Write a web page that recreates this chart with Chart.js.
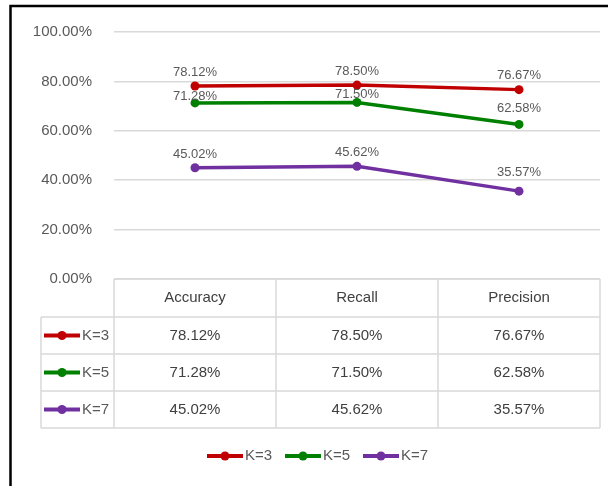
<!DOCTYPE html>
<html>
<head>
<meta charset="utf-8">
<script src="https://cdn.jsdelivr.net/npm/chart.js@4.4.1/dist/chart.umd.min.js"></script>
<style>
  html, body { margin: 0; padding: 0; background: #ffffff; }
  canvas { display: block; }
</style>
</head>
<body>
<canvas id="chart" width="608" height="486"></canvas>
<script>
// --- Data ---
const categories = ['Accuracy', 'Recall', 'Precision'];
const seriesNames = ['K=3', 'K=5', 'K=7'];
const k3Values = [0.7812, 0.7850, 0.7667];
const k5Values = [0.7128, 0.7150, 0.6258];
const k7Values = [0.4502, 0.4562, 0.3557];
const yTicks = [0, 0.2, 0.4, 0.6, 0.8, 1.0];

// --- Style ---
const COLORS = ['#C00000', '#008000', '#7030A0'];
const FONT = "'Liberation Sans', Arial, sans-serif";
const TEXT = '#595959';
const GRID = '#D9D9D9';
// how far above each point its label sits (px)
const LABEL_LIFT = [[14, 14, 14], [7, 8, 16], [13, 14, 19]];

const pct = v => (v * 100).toFixed(2) + '%';

function makeDataset(label, data, color) {
    return {
        label: label,
        data: data,
        borderColor: color,
        backgroundColor: color,
        pointBackgroundColor: color,
        pointBorderColor: color,
        pointBorderWidth: 0,
        borderWidth: 3.5,
        pointRadius: 4.5,
        pointHoverRadius: 4.5,
        tension: 0
    };
}

// black frame on top and left (chart border, right/bottom cut off)
const framePlugin = {
    id: 'frame',
    afterDraw(chart) {
        const ctx = chart.ctx;
        ctx.save();
        ctx.strokeStyle = '#000000';
        ctx.lineWidth = 2.5;
        ctx.beginPath();
        ctx.moveTo(10.5, 486);
        ctx.lineTo(10.5, 6);
        ctx.lineTo(608, 6);
        ctx.stroke();
        ctx.restore();
    }
};

// value labels above each point
const labelPlugin = {
    id: 'pointLabels',
    afterDatasetsDraw(chart) {
        const ctx = chart.ctx;
        ctx.save();
        ctx.font = '13px ' + FONT;
        ctx.fillStyle = TEXT;
        ctx.textAlign = 'center';
        ctx.textBaseline = 'middle';
        chart.data.datasets.forEach((ds, di) => {
            const meta = chart.getDatasetMeta(di);
            meta.data.forEach((pt, i) => {
                ctx.fillText(pct(ds.data[i]), pt.x, pt.y - LABEL_LIFT[di][i]);
            });
        });
        ctx.restore();
    }
};

function drawKey(ctx, x, y, color) {
    ctx.strokeStyle = color;
    ctx.fillStyle = color;
    ctx.lineWidth = 4;
    ctx.beginPath();
    ctx.moveTo(x, y);
    ctx.lineTo(x + 36, y);
    ctx.stroke();
    ctx.beginPath();
    ctx.arc(x + 18, y, 4.5, 0, Math.PI * 2);
    ctx.fill();
}

// data table under the plot, columns follow the x scale
const tablePlugin = {
    id: 'dataTable',
    afterDraw(chart) {
        const ctx = chart.ctx;
        const area = chart.chartArea;
        const xs = chart.scales.x;
        const n = categories.length;
        const colW = (area.right - area.left) / n;
        const headH = 38, rowH = 37;
        const top = area.bottom;
        const bodyTop = top + headH;
        const bottom = bodyTop + rowH * seriesNames.length;
        const leftCol = 41;

        ctx.save();
        ctx.strokeStyle = GRID;
        ctx.lineWidth = 1.5;
        ctx.beginPath();
        // header box
        ctx.moveTo(area.left, top); ctx.lineTo(area.right, top);
        // horizontal row lines
        for (let r = 0; r <= seriesNames.length; r++) {
            const y = bodyTop + r * rowH;
            ctx.moveTo(leftCol, y); ctx.lineTo(area.right, y);
        }
        // vertical lines
        for (let c = 0; c <= n; c++) {
            const x = area.left + c * colW;
            ctx.moveTo(x, top); ctx.lineTo(x, bottom);
        }
        ctx.moveTo(leftCol, bodyTop); ctx.lineTo(leftCol, bottom);
        ctx.stroke();

        ctx.font = '15px ' + FONT;
        ctx.fillStyle = '#404040';
        ctx.textAlign = 'center';
        ctx.textBaseline = 'middle';
        categories.forEach((cat, i) => {
            ctx.fillText(cat, xs.getPixelForValue(i), top + headH / 2);
        });
        chart.data.datasets.forEach((ds, di) => {
            const y = bodyTop + di * rowH + rowH / 2;
            ds.data.forEach((v, i) => {
                ctx.fillText(pct(v), xs.getPixelForValue(i), y);
            });
            drawKey(ctx, 44, y, COLORS[di]);
            ctx.fillStyle = TEXT;
            ctx.textAlign = 'left';
            ctx.fillText(ds.label, 82, y);
            ctx.textAlign = 'center';
            ctx.fillStyle = '#404040';
        });
        ctx.restore();
    }
};

// legend at the bottom
const legendPlugin = {
    id: 'bottomLegend',
    afterDraw(chart) {
        const ctx = chart.ctx;
        ctx.save();
        ctx.font = '15px ' + FONT;
        ctx.textBaseline = 'middle';
        ctx.textAlign = 'left';
        const y = 456;
        let x = 207;
        chart.data.datasets.forEach((ds, di) => {
            drawKey(ctx, x, y, COLORS[di]);
            ctx.fillStyle = TEXT;
            ctx.fillText(ds.label, x + 38, y);
            x += 78;
        });
        ctx.restore();
    }
};

const ctx = document.getElementById('chart').getContext('2d');
new Chart(ctx, {
    type: 'line',
    data: {
        labels: categories,
        datasets: [
            makeDataset(seriesNames[0], k3Values, COLORS[0]),
            makeDataset(seriesNames[1], k5Values, COLORS[1]),
            makeDataset(seriesNames[2], k7Values, COLORS[2])
        ]
    },
    options: {
        responsive: false,
        animation: false,
        layout: { padding: { top: 32, bottom: 207, left: 0, right: 8 } },
        plugins: {
            legend: { display: false },
            tooltip: { enabled: false }
        },
        scales: {
            x: {
                type: 'category',
                offset: true,
                display: false
            },
            y: {
                min: 0,
                max: 1,
                afterBuildTicks: scale => { scale.ticks = yTicks.map(v => ({ value: v })); },
                afterFit: scale => { scale.width = 114; },
                ticks: {
                    callback: v => pct(v),
                    color: TEXT,
                    font: { family: FONT, size: 15 },
                    padding: 22
                },
                grid: { color: GRID, lineWidth: 1.5, drawTicks: false },
                border: { display: false }
            }
        }
    },
    plugins: [labelPlugin, tablePlugin, legendPlugin, framePlugin]
});
</script>
</body>
</html>
